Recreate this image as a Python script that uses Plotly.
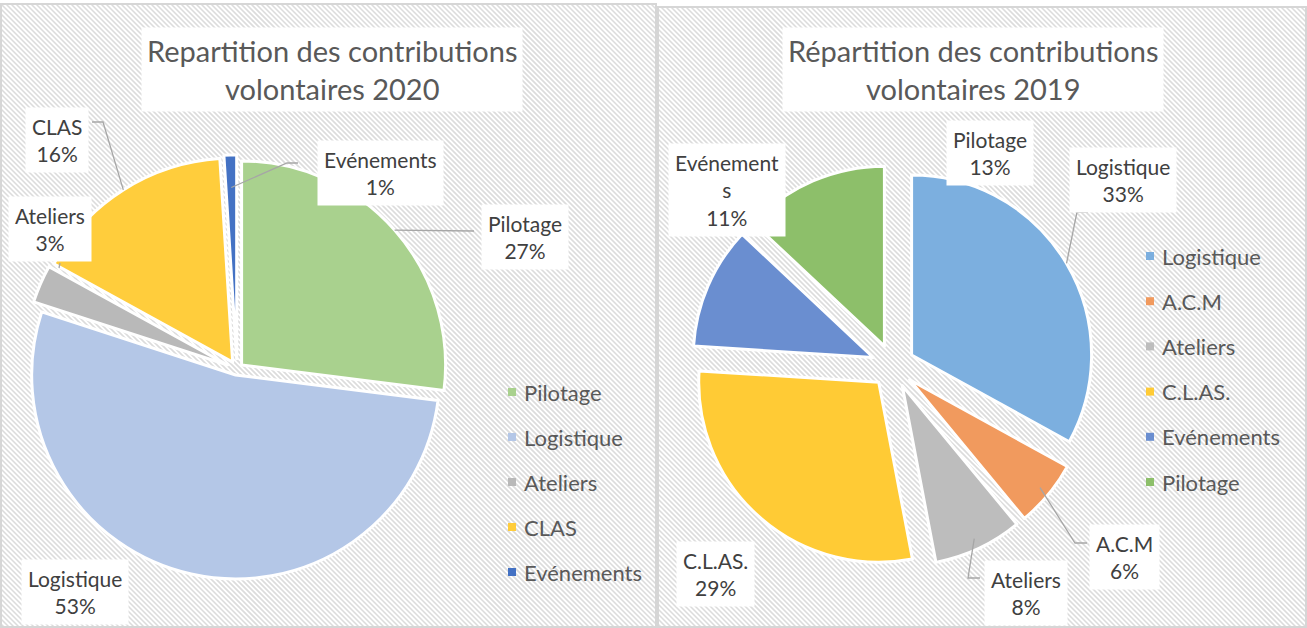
import plotly.graph_objects as go
import math

# ---------------- data ----------------
labels_2020 = ["Pilotage", "Logistique", "Ateliers", "CLAS", "Evénements"]
values_2020 = [27, 53, 3, 16, 1]
colors_2020 = ["#A9D18E", "#B4C7E7", "#B9B9B9", "#FFCD3C", "#4472C4"]
pull_2020 = [0.03, 0.03, 0.05, 0.04, 0.05]

labels_2019 = ["Logistique", "A.C.M", "Ateliers", "C.L.AS.", "Evénements", "Pilotage"]
values_2019 = [33, 6, 8, 29, 11, 13]
colors_2019 = ["#7CAFDF", "#F19A5E", "#BDBDBD", "#FFCB35", "#6A8ED0", "#8DBF6A"]
pull_2019 = [0.12, 0.12, 0.12, 0.12, 0.12, 0.12]

title_2020 = "Repartition des contributions<br>volontaires 2020"
title_2019 = "Répartition des contributions<br>volontaires 2019"

# label text wrapping as in the original data labels
wrap_2019 = {"Evénements": "Evénement<br>s"}

# ---------------- layout helpers ----------------
W, H = 1307, 628
FONT = "Lato"
TXT = "#404040"
GREY = "#595959"


def px(x):
    return x / W


def py(y):
    return 1 - y / H


fig = go.Figure()

# pie geometry (pixels): centre, radius
C20, R20 = (237, 369), 204
C19, R19 = (893, 366), 180


def domain(c, r, pulls):
    half = r * (1 + max(pulls))
    return dict(x=[px(c[0] - half), px(c[0] + half)],
                y=[py(c[1] + half), py(c[1] - half)])


fig.add_trace(go.Pie(
    labels=labels_2020, values=values_2020, sort=False, direction="clockwise",
    rotation=0, pull=pull_2020, textinfo="none", showlegend=False,
    marker=dict(colors=colors_2020, line=dict(color="white", width=3)),
    domain=domain(C20, R20, pull_2020), hoverinfo="label+percent"))

fig.add_trace(go.Pie(
    labels=labels_2019, values=values_2019, sort=False, direction="clockwise",
    rotation=0, pull=pull_2019, textinfo="none", showlegend=False,
    marker=dict(colors=colors_2019, line=dict(color="white", width=3)),
    domain=domain(C19, R19, pull_2019), hoverinfo="label+percent"))

shapes = []
annotations = []

# ---------------- hatched panel backgrounds ----------------
panels = [(1, 4, 656, 627), (658, 7, 1306, 627)]
for (x0, y0, x1, y1) in panels:
    segs = []
    c = y0 - x1
    while c <= y1 - x0:
        xa = max(x0, y0 - c)
        xb = min(x1, y1 - c)
        if xb > xa:
            segs.append("M%.5f,%.5f L%.5f,%.5f" % (px(xa), py(xa + c), px(xb), py(xb + c)))
        c += 5
    shapes.append(dict(type="path", xref="paper", yref="paper", path=" ".join(segs),
                       line=dict(color="#dcdcdc", width=1.6), layer="below"))
    shapes.append(dict(type="rect", xref="paper", yref="paper",
                       x0=px(x0), x1=px(x1), y0=py(y1), y1=py(y0),
                       line=dict(color="#d6d6d6", width=2), layer="below"))

# ---------------- titles ----------------
for text, cx in [(title_2020, 332), (title_2019, 973)]:
    annotations.append(dict(text=text, x=px(cx), y=py(69), xref="paper", yref="paper",
                            xanchor="center", yanchor="middle", showarrow=False,
                            font=dict(family=FONT, size=29, color=GREY),
                            bgcolor="white", borderpad=5))


# ---------------- data labels ----------------
def mid_angles(values):
    tot = sum(values)
    out, acc = [], 0
    for v in values:
        out.append((acc + v / 2) / tot * 2 * math.pi)
        acc += v
    return out


def arc_point(c, r, pull, ang, f=1.0):
    d = r * f + r * pull
    return (c[0] + d * math.sin(ang), c[1] - d * math.cos(ang))


def label_text(lab, val, wrap=None):
    wrap = wrap or {}
    return "%s<br>%d%%" % (wrap.get(lab, lab), val)


# positions of label boxes (pixel centres)
pos_2020 = {"Pilotage": (525, 237), "Logistique": (75, 592), "Ateliers": (50, 229),
            "CLAS": (57, 140), "Evénements": (380, 173)}
pos_2019 = {"Logistique": (1123, 180), "A.C.M": (1124, 557), "Ateliers": (1026, 593),
            "C.L.AS.": (716, 574), "Evénements": (727, 190), "Pilotage": (990, 153)}

LBL = 21
for lab, val in zip(labels_2020, values_2020):
    cx, cy = pos_2020[lab]
    annotations.append(dict(text=label_text(lab, val), x=px(cx), y=py(cy), xref="paper",
                            yref="paper", xanchor="center", yanchor="middle", showarrow=False,
                            font=dict(family=FONT, size=LBL, color=TXT), bgcolor="white",
                            borderpad=6))
for lab, val in zip(labels_2019, values_2019):
    cx, cy = pos_2019[lab]
    annotations.append(dict(text=label_text(lab, val, wrap_2019), x=px(cx), y=py(cy),
                            xref="paper", yref="paper", xanchor="center", yanchor="middle",
                            showarrow=False, font=dict(family=FONT, size=LBL, color=TXT),
                            bgcolor="white", borderpad=6))

# ---------------- leader lines ----------------
a20 = dict(zip(labels_2020, mid_angles(values_2020)))
p20 = dict(zip(labels_2020, pull_2020))
a19 = dict(zip(labels_2019, mid_angles(values_2019)))
p19 = dict(zip(labels_2019, pull_2019))


def poly(points):
    return " ".join(("M" if i == 0 else "L") + "%.5f,%.5f" % (px(x), py(y))
                    for i, (x, y) in enumerate(points))


leaders = [
    [(474, 231), arc_point(C20, R20, p20["Pilotage"], a20["Pilotage"])],
    [(92, 122), (103, 122), arc_point(C20, R20, p20["CLAS"], a20["CLAS"])],
    [(60, 263), (59, 268)],
    [(298, 163), (287, 163), arc_point(C20, R20, p20["Evénements"], a20["Evénements"], 0.84)],
    [(1088, 212), (1077, 212), arc_point(C19, R19, p19["Logistique"], a19["Logistique"])],
    [(1087, 543), (1075, 543), arc_point(C19, R19, p19["A.C.M"], a19["A.C.M"], 0.94)],
    [(980, 578), (968, 578), arc_point(C19, R19, p19["Ateliers"], a19["Ateliers"], 0.94)],
]
for pts in leaders:
    shapes.append(dict(type="path", xref="paper", yref="paper", path=poly(pts),
                       line=dict(color="#a6a6a6", width=1.3), layer="above"))


# ---------------- legends ----------------
def legend(labels, colors, x_marker, y_first, step):
    for i, (lab, col) in enumerate(zip(labels, colors)):
        y = y_first + i * step
        shapes.append(dict(type="rect", xref="paper", yref="paper",
                           x0=px(x_marker - 4), x1=px(x_marker + 4),
                           y0=py(y + 4), y1=py(y - 4),
                           fillcolor=col, line=dict(width=0), layer="above"))
        annotations.append(dict(text=lab, x=px(x_marker + 10), y=py(y), xref="paper",
                                yref="paper", xanchor="left", yanchor="middle",
                                showarrow=False, font=dict(family=FONT, size=22, color=GREY)))


legend(labels_2020, colors_2020, 512, 392, 45)
legend(labels_2019, colors_2019, 1150, 256, 45.2)

fig.update_layout(
    width=W, height=H, margin=dict(l=0, r=0, t=0, b=0),
    paper_bgcolor="white", plot_bgcolor="white",
    shapes=shapes, annotations=annotations,
    font=dict(family=FONT),
)

fig.write_html("out.html", config={"displayModeBar": False},
               post_script="document.body.style.margin='0';document.body.style.padding='0';")
